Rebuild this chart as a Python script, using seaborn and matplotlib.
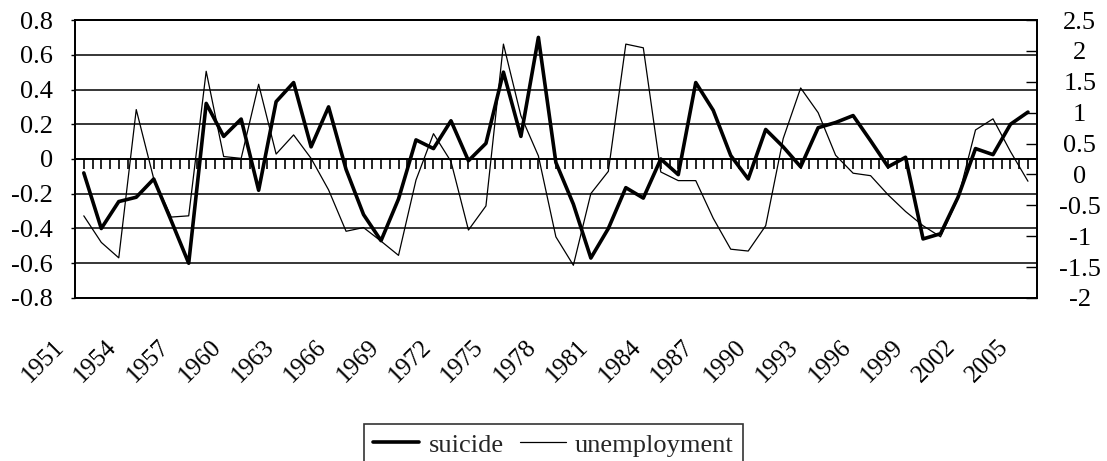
import matplotlib
matplotlib.use("Agg")
import matplotlib.pyplot as plt
from matplotlib.transforms import ScaledTranslation
import seaborn as sns
import numpy as np
import pandas as pd

# Values
years = list(range(1951, 2006))
suicide = [-0.08, -0.40, -0.245, -0.22, -0.115, -0.355, -0.60, 0.32, 0.13, 0.23,
           -0.18, 0.33, 0.44, 0.07, 0.30, -0.06, -0.32, -0.47, -0.23, 0.11,
           0.06, 0.22, -0.01, 0.09, 0.50, 0.13, 0.70, -0.02, -0.26, -0.57,
           -0.40, -0.165, -0.225, 0.0, -0.09, 0.44, 0.28, 0.02, -0.115, 0.17,
           0.07, -0.045, 0.18, 0.21, 0.25, 0.105, -0.045, 0.01, -0.46, -0.43,
           -0.22, 0.06, 0.025, 0.20, 0.27]
unemployment = [-0.67, -1.10, -1.35, 1.05, -0.07, -0.69, -0.67, 1.67, 0.29, 0.26,
                1.46, 0.33, 0.64, 0.26, -0.25, -0.92, -0.86, -1.08, -1.31, -0.09,
                0.66, 0.21, -0.90, -0.51, 2.11, 0.95, 0.30, -1.01, -1.47, -0.31,
                0.05, 2.11, 2.05, 0.04, -0.10, -0.10, -0.71, -1.21, -1.24, -0.83,
                0.58, 1.40, 1.00, 0.31, 0.02, -0.02, -0.33, -0.60, -0.83, -1.01,
                -0.39, 0.72, 0.90, 0.37, -0.11]

left_ticks = [0.8, 0.6, 0.4, 0.2, 0, -0.2, -0.4, -0.6, -0.8]
left_labels = ["0.8", "0.6", "0.4", "0.2", "0", "-0.2", "-0.4", "-0.6", "-0.8"]
right_ticks = [2.5, 2, 1.5, 1, 0.5, 0, -0.5, -1, -1.5, -2]
right_labels = ["2.5", "2", "1.5", "1", "0.5", "0", "-0.5", "-1", "-1.5", "-2"]
label_years = years[::3]

df = pd.DataFrame({"year": years, "suicide": suicide, "unemployment": unemployment})

sns.set_theme(style="white")
plt.rcParams["font.family"] = ["Liberation Serif", "DejaVu Serif"]
plt.rcParams["axes.unicode_minus"] = False
fs = 19

fig, ax = plt.subplots(figsize=(11.07, 4.61), dpi=100)
fig.subplots_adjust(left=0.0678, right=0.9365, top=0.9566, bottom=0.3536)
ax2 = ax.twinx()

sns.lineplot(data=df, x="year", y="unemployment", ax=ax2, color="black", lw=0.9, label="unemployment")
sns.lineplot(data=df, x="year", y="suicide", ax=ax, color="black", lw=2.6, label="suicide")
ax.set_zorder(ax2.get_zorder() + 1)
ax.patch.set_visible(False)

# left axis
ax.set_xlim(1950.5, 2005.5)
ax.set_ylim(-0.8, 0.8)
ax.set_yticks(left_ticks, left_labels)
ax.grid(axis="y", color="black", lw=1.1)
ax.grid(axis="x", visible=False)
ax.set_xticks(label_years, [str(y) for y in label_years], rotation=45,
              ha="right", va="top", rotation_mode="anchor")
ax.tick_params(axis="x", length=0, pad=27, labelsize=18, colors="black")
ax.tick_params(axis="y", length=3, width=1, pad=13, labelsize=fs, left=True, colors="black")
shift = ScaledTranslation(-31 / 100, 0, fig.dpi_scale_trans)
for lbl in ax.get_xticklabels():
    lbl.set_transform(lbl.get_transform() + shift)
ax.set_xlabel("")
ax.set_ylabel("")
for sp in ax.spines.values():
    sp.set_color("black")
    sp.set_linewidth(1.3)

# right axis
ax2.set_ylim(-2, 2.5)
ax2.set_yticks(right_ticks, right_labels)
ax2.tick_params(axis="y", direction="in", length=8, width=1, pad=31, labelsize=fs,
                right=True, colors="black")
for lbl in ax2.get_yticklabels():
    lbl.set_horizontalalignment("center")
ax2.set_ylabel("")
for sp in ax2.spines.values():
    sp.set_color("black")
    sp.set_linewidth(1.3)

# category axis crossing at zero with small ticks
zero_axis = ax.secondary_xaxis(0.4999)
zero_axis.set_xticks(np.arange(1950.5, 2005.51, 0.5))
zero_axis.tick_params(direction="out", length=7, width=1.2, labelbottom=False, colors="black")
zero_axis.spines["bottom"].set_color("black")
zero_axis.spines["bottom"].set_linewidth(1.3)

# legend
h1, l1 = ax.get_legend_handles_labels()
h2, l2 = ax2.get_legend_handles_labels()
ax.get_legend().remove()
ax2.get_legend().remove()
leg = fig.legend(h1 + h2, l1 + l2, loc="upper center", bbox_to_anchor=(0.5, 0.109), ncol=2,
                 frameon=True, fancybox=False, edgecolor="black", handlelength=1.75,
                 handletextpad=0.35, columnspacing=0.6, borderpad=0.35, fontsize=fs)
leg.get_frame().set_linewidth(1.2)

fig.savefig("out.png", dpi=100)
